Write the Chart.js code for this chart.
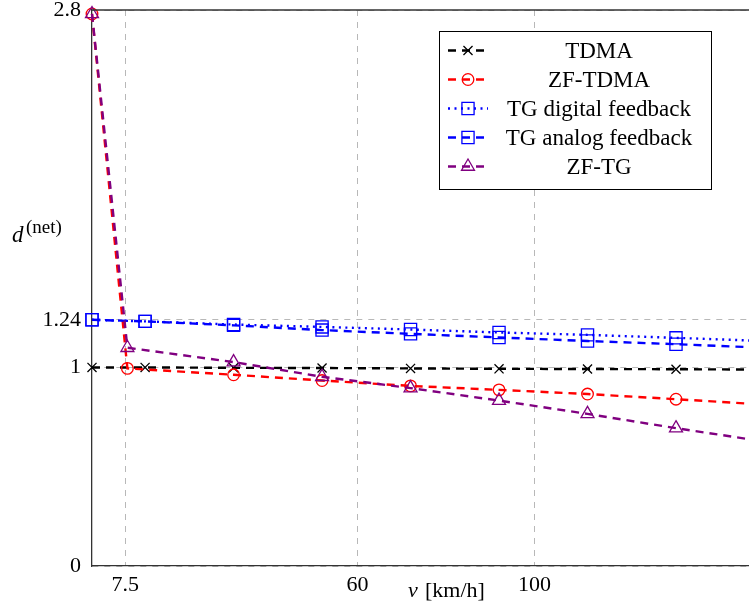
<!DOCTYPE html>
<html><head><meta charset="utf-8">
<script src="https://cdn.jsdelivr.net/npm/chart.js@4/dist/chart.umd.min.js"></script>
<style>html,body{margin:0;padding:0;background:#fff;overflow:hidden}#wrap{width:749px;height:616px}</style>
</head><body><div id="wrap"><canvas id="c" width="749" height="616"></canvas></div>
<script>
// ---- data ----
const seriesNames = ['TDMA', 'ZF-TDMA', 'TG digital feedback', 'TG analog feedback', 'ZF-TG'];
const speedTDMA  = [0, 12, 32, 52, 72, 92, 112, 132, 152];
const valTDMA    = [1.0, 1.0, 0.998, 0.997, 0.995, 0.993, 0.992, 0.991, 0.989];
const speedZF    = [0, 8, 32, 52, 72, 92, 112, 132, 152];
const valZFTDMA  = [2.78, 0.995, 0.963, 0.934, 0.907, 0.887, 0.866, 0.840, 0.813];
const speedTG    = [0, 12, 32, 52, 72, 92, 112, 132, 152];
const valTGdig   = [1.24, 1.232, 1.216, 1.204, 1.191, 1.176, 1.164, 1.149, 1.133];
const valTGana   = [1.24, 1.232, 1.212, 1.188, 1.169, 1.151, 1.133, 1.117, 1.099];
const valZFTG    = [2.78, 1.099, 1.027, 0.953, 0.896, 0.833, 0.766, 0.694, 0.627];
const xTickValues = [7.5, 60, 100];
const yTickValues = [0, 1, 1.24, 2.8];
const xRange = [0, 148.5];
const yRange = [0, 2.8];

function pts(xs, ys) { return xs.map((x, i) => ({ x: x, y: ys[i] })); }

const FONT = '"Liberation Serif", "Times New Roman", serif';

function mk(label, xs, ys, color, dash, style, radius, order) {
  return {
    label: label, data: pts(xs, ys), borderColor: color, borderWidth: 2.4, borderDash: dash,
    pointStyle: style, pointRadius: radius, pointBorderColor: color, pointBorderWidth: 1.3,
    pointBackgroundColor: 'rgba(0,0,0,0)', fill: false, tension: 0, order: order, clip: 14
  };
}

const pgfPlugin = {
  id: 'pgfDecor',
  afterDraw(chart) {
    const ctx = chart.ctx, ca = chart.chartArea;
    ctx.save();
    // top frame line
    ctx.strokeStyle = '#333'; ctx.lineWidth = 1.3; ctx.setLineDash([]);
    ctx.beginPath(); ctx.moveTo(ca.left, ca.top); ctx.lineTo(ca.right, ca.top); ctx.stroke();
    // legend box
    const bx = 439, by = 31, bw = 272, bh = 158;
    ctx.fillStyle = '#fff'; ctx.fillRect(bx, by, bw, bh);
    ctx.strokeStyle = '#000'; ctx.lineWidth = 1; ctx.strokeRect(bx + 0.5, by + 0.5, bw, bh);
    chart.data.datasets.forEach((ds, i) => {
      const y = 50.5 + i * 29;
      ctx.save();
      ctx.strokeStyle = ds.borderColor; ctx.lineWidth = ds.borderWidth; ctx.setLineDash(ds.borderDash || []);
      ctx.beginPath(); ctx.moveTo(448, y); ctx.lineTo(488, y); ctx.stroke();
      ctx.restore();
      ctx.save();
      ctx.setLineDash([]);
      ctx.strokeStyle = ds.pointBorderColor; ctx.lineWidth = ds.pointBorderWidth; ctx.fillStyle = 'rgba(0,0,0,0)';
      Chart.helpers.drawPoint(ctx, { pointStyle: ds.pointStyle, radius: ds.pointRadius, rotation: 0, borderWidth: ds.pointBorderWidth }, 468, y);
      ctx.restore();
      ctx.fillStyle = '#000'; ctx.font = '23px ' + FONT; ctx.textAlign = 'center'; ctx.textBaseline = 'middle';
      ctx.fillText(ds.label, 599, y + 1);
    });
    // y-axis title d^(net)
    ctx.fillStyle = '#000'; ctx.textAlign = 'left'; ctx.textBaseline = 'alphabetic';
    ctx.font = 'italic 23px ' + FONT; ctx.fillText('d', 12, 242);
    ctx.font = '19px ' + FONT; ctx.fillText('(net)', 26, 233);
    // x-axis title v [km/h]
    ctx.font = 'italic 22px ' + FONT; ctx.fillText('v', 408, 597);
    ctx.font = '22px ' + FONT; ctx.fillText('[km/h]', 425, 597);
    ctx.restore();
  }
};

new Chart(document.getElementById('c'), {
  type: 'line',
  data: {
    datasets: [
      mk(seriesNames[0], speedTDMA, valTDMA, '#000000', [8, 6], 'crossRot', 6.4, 4),
      mk(seriesNames[1], speedZF, valZFTDMA, '#ff0000', [8, 6], 'circle', 5.8, 3),
      mk(seriesNames[2], speedTG, valTGdig, '#0000ff', [2, 4.5], 'rect', 8.6, 2),
      mk(seriesNames[3], speedTG, valTGana, '#0000ff', [8, 6], 'rect', 8.6, 1),
      mk(seriesNames[4], speedZF, valZFTG, '#800080', [8, 6], 'triangle', 7.5, 0)
    ]
  },
  options: {
    responsive: false, animation: false, events: [],
    layout: { autoPadding: false, padding: { left: 0, top: 10, right: 0, bottom: 0 } },
    plugins: { legend: { display: false }, tooltip: { enabled: false }, title: { display: false } },
    scales: {
      x: {
        type: 'linear', min: xRange[0], max: xRange[1],
        afterBuildTicks(s) { s.ticks = xTickValues.map(v => ({ value: v })); },
        afterFit(s) { s.height = 50; s.paddingLeft = 0; s.paddingRight = 0; },
        ticks: { autoSkip: false, maxRotation: 0, padding: 6, color: '#000', font: { family: FONT, size: 22 }, callback: v => String(v) },
        grid: { color: '#b8b8b8', lineWidth: 1, drawTicks: false },
        border: { display: true, color: '#333', width: 1.3, dash: [6, 6] }
      },
      y: {
        type: 'linear', min: yRange[0], max: yRange[1],
        afterBuildTicks(s) { s.ticks = yTickValues.map(v => ({ value: v })); },
        afterFit(s) { s.width = 92; s.paddingTop = 0; s.paddingBottom = 0; },
        ticks: { autoSkip: false, padding: 11, color: '#000', font: { family: FONT, size: 22 }, callback: v => String(v) },
        grid: { color: '#b8b8b8', lineWidth: 1, drawTicks: false },
        border: { display: true, color: '#333', width: 1.3, dash: [6, 6] }
      }
    }
  },
  plugins: [pgfPlugin]
});
</script>
</body></html>
